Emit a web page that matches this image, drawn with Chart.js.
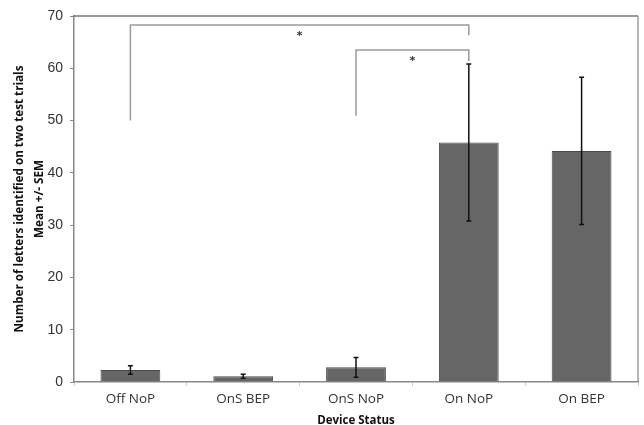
<!DOCTYPE html>
<html>
<head>
<meta charset="utf-8">
<script src="https://cdn.jsdelivr.net/npm/chart.js@4"></script>
<style>
  html, body { margin: 0; padding: 0; background: #fff; }
  #wrap { width: 644px; height: 425px; }
</style>
</head>
<body>
<div id="wrap"><canvas id="graphCanvas"></canvas></div>
<script>
// data
var categories = ['Off NoP', 'OnS BEP', 'OnS NoP', 'On NoP', 'On BEP'];
var means = [2.3, 1.1, 2.8, 45.8, 44.2];
var sem = [0.8, 0.4, 1.9, 15.0, 14.1];
var yTicks = [0, 10, 20, 30, 40, 50, 60, 70];

// significance brackets: [from category, to category, left leg bottom, top, right leg bottom]
var brackets = [
    [0, 3, 50, 68.3, 66.3],
    [2, 3, 50.9, 63.5, 61.4]
];

var errorBars = {
    id: 'errorBars',
    afterDatasetsDraw: function (chart) {
        var ctx = chart.ctx;
        var xs = chart.scales.x;
        var ys = chart.scales.y;
        ctx.save();
        ctx.strokeStyle = '#111';
        ctx.lineWidth = 1.5;
        for (var i = 0; i < means.length; i++) {
            var x = xs.getPixelForValue(i);
            var top = ys.getPixelForValue(means[i] + sem[i]);
            var bot = ys.getPixelForValue(means[i] - sem[i]);
            ctx.beginPath();
            ctx.moveTo(x, top); ctx.lineTo(x, bot);
            ctx.moveTo(x - 2.5, top); ctx.lineTo(x + 2.5, top);
            ctx.moveTo(x - 2.5, bot); ctx.lineTo(x + 2.5, bot);
            ctx.stroke();
        }
        // brackets
        ctx.strokeStyle = '#9a9a9a';
        ctx.lineWidth = 1.5;
        ctx.fillStyle = '#333';
        ctx.font = 'bold 11px "DejaVu Sans"';
        ctx.textAlign = 'center';
        ctx.textBaseline = 'middle';
        brackets.forEach(function (b) {
            var x1 = xs.getPixelForValue(b[0]);
            var x2 = xs.getPixelForValue(b[1]);
            var yTop = ys.getPixelForValue(b[3]);
            ctx.beginPath();
            ctx.moveTo(x1, ys.getPixelForValue(b[2]));
            ctx.lineTo(x1, yTop);
            ctx.lineTo(x2, yTop);
            ctx.lineTo(x2, ys.getPixelForValue(b[4]));
            ctx.stroke();
            ctx.fillText('*', (x1 + x2) / 2, yTop + 11);
        });
        // frame on top and right
        var a = chart.chartArea;
        ctx.strokeStyle = '#333';
        ctx.lineWidth = 1.2;
        ctx.beginPath();
        ctx.moveTo(a.left, a.top); ctx.lineTo(a.right, a.top);
        ctx.stroke();
        ctx.strokeStyle = '#888';
        ctx.beginPath();
        ctx.moveTo(a.right, a.top); ctx.lineTo(a.right, a.bottom);
        ctx.stroke();
        ctx.restore();
    }
};

var chartdata = {
    labels: categories,
    datasets: [
        {
            label: 'Mean',
            backgroundColor: '#666666',
            borderColor: '#4a4a4a',
            borderWidth: 1,
            data: means,
            barPercentage: 0.53,
            categoryPercentage: 1.0
        }
    ]
};

var barGraph = new Chart(document.getElementById('graphCanvas'), {
    type: 'bar',
    data: chartdata,
    plugins: [errorBars],
    options: {
        responsive: true,
        maintainAspectRatio: false,
        animation: false,
        layout: { padding: { top: 16, right: 6, left: 0, bottom: 0 } },
        plugins: {
            legend: { display: false },
            tooltip: { enabled: false }
        },
        scales: {
            x: {
                afterFit: function (axis) { axis.height = 43; },
                grid: { display: true, drawOnChartArea: false, drawTicks: true, tickLength: 4, offset: true, color: '#ccc' },
                border: { color: '#888', width: 1.5 },
                ticks: { color: '#333', font: { family: 'Open Sans', size: 13.5 }, padding: 5 },
                title: {
                    display: true,
                    text: 'Device Status',
                    color: '#111',
                    font: { family: 'Open Sans', size: 11.5, weight: 'bold', lineHeight: 0.8 },
                    padding: { top: 0, bottom: 0 }
                }
            },
            y: {
                min: 0,
                max: 70,
                afterBuildTicks: function (axis) {
                    axis.ticks = yTicks.map(function (v) { return { value: v }; });
                },
                afterFit: function (axis) { axis.width = 74; },
                grid: { display: true, drawOnChartArea: false, drawTicks: true, tickLength: 4, color: '#888' },
                border: { color: '#888', width: 1.5 },
                ticks: { color: '#333', font: { family: 'Liberation Sans', size: 14 }, padding: 7 },
                title: {
                    display: true,
                    text: ['Number of letters identified on two test trials', 'Mean +/- SEM'],
                    color: '#111',
                    font: { family: 'Open Sans', size: 11.7, weight: 'bold', lineHeight: 1.7 },
                    padding: { top: 10, bottom: 0 }
                }
            }
        }
    }
});
</script>
</body>
</html>
